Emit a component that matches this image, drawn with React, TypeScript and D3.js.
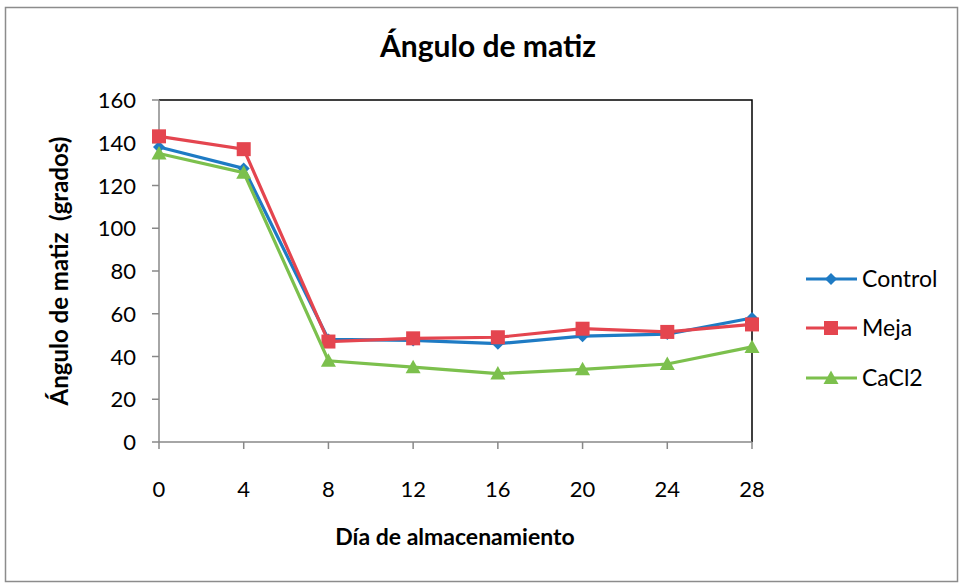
import React from "react";
import * as d3 from "d3";

const days = [0, 4, 8, 12, 16, 20, 24, 28];
const control = [138, 128, 48, 47.5, 46, 49.5, 50.5, 58];
const meja = [143, 137, 47, 48.5, 49, 53, 51.5, 55];
const cacl2 = [135, 126, 38, 35, 32, 34, 36.5, 44.5];
const yTicks = [0, 20, 40, 60, 80, 100, 120, 140, 160];
const xTicks = [0, 4, 8, 12, 16, 20, 24, 28];

const series = [
  { name: "Control", values: control, color: "#1E7BC4", marker: "diamond" },
  { name: "Meja", values: meja, color: "#E4454F", marker: "square" },
  { name: "CaCl2", values: cacl2, color: "#7CC04D", marker: "triangle" },
];

const W = 961;
const H = 583;
const L = 159, R = 752, T = 100, B = 442;
const FONT = "Lato, 'Open Sans', sans-serif";

function Marker({ type, x, y, color }: { type: string; x: number; y: number; color: string }) {
  if (type === "diamond") {
    const s = 6;
    return <path d={`M${x},${y - s}L${x + s},${y}L${x},${y + s}L${x - s},${y}Z`} fill={color} />;
  }
  if (type === "square") {
    const s = 7;
    return <rect x={x - s} y={y - s} width={2 * s} height={2 * s} fill={color} />;
  }
  const s = 7.5;
  return <path d={`M${x},${y - s}L${x + s},${y + s * 0.8}L${x - s},${y + s * 0.8}Z`} fill={color} />;
}

export default function App() {
  const x = d3.scaleLinear().domain([0, 28]).range([L, R]);
  const y = d3.scaleLinear().domain([0, 160]).range([B, T]);
  const line = d3
    .line<number>()
    .x((_, i) => x(days[i]))
    .y((d) => y(d));

  const legendY = [279, 328, 378];

  return (
    <div style={{ position: "fixed", left: 0, top: 0 }}>
      <svg width={W} height={H} style={{ display: "block", background: "#fff" }}>
        <rect x={5.5} y={7.5} width={952} height={574} fill="#fff" stroke="#8c8c8c" strokeWidth={1.5} />
        <text x={488} y={57} textAnchor="middle" fontFamily={FONT} fontWeight="bold" fontSize={30} fill="#000">
          Ángulo de matiz
        </text>
        {/* plot border top & right */}
        <path d={`M${L},${T}H${R}V${B}`} fill="none" stroke="#000" strokeWidth={1.5} />
        {/* axes */}
        <line x1={L} x2={L} y1={T} y2={B} stroke="#888" strokeWidth={1.5} />
        <line x1={L} x2={R} y1={B} y2={B} stroke="#888" strokeWidth={1.5} />
        {yTicks.map((t) => (
          <g key={"y" + t}>
            <line x1={L - 7} x2={L} y1={y(t)} y2={y(t)} stroke="#888" strokeWidth={1.5} />
            <text x={136} y={y(t) + 8} textAnchor="end" fontFamily={FONT} fontSize={22} fill="#000">
              {t}
            </text>
          </g>
        ))}
        {xTicks.map((t) => (
          <g key={"x" + t}>
            <line x1={x(t)} x2={x(t)} y1={B} y2={B + 7} stroke="#888" strokeWidth={1.5} />
            <text x={x(t)} y={497} textAnchor="middle" fontFamily={FONT} fontSize={22} fill="#000">
              {t}
            </text>
          </g>
        ))}
        <text x={455} y={545} textAnchor="middle" fontFamily={FONT} fontWeight="bold" fontSize={23} fill="#000">
          Día de almacenamiento
        </text>
        <text
          transform={`translate(68,271) rotate(-90)`}
          textAnchor="middle"
          fontFamily={FONT}
          fontWeight="bold"
          fontSize={24}
          fill="#000"
          style={{ whiteSpace: "pre" }}
        >
          {"Ángulo de matiz  (grados)"}
        </text>
        {series.map((s) => (
          <g key={s.name}>
            <path d={line(s.values) || ""} fill="none" stroke={s.color} strokeWidth={3.2} />
            {s.values.map((v, i) => (
              <Marker key={i} type={s.marker} x={x(days[i])} y={y(v)} color={s.color} />
            ))}
          </g>
        ))}
        {series.map((s, i) => (
          <g key={"lg" + s.name}>
            <line x1={806} x2={857} y1={legendY[i]} y2={legendY[i]} stroke={s.color} strokeWidth={3.2} />
            <Marker type={s.marker} x={831} y={legendY[i]} color={s.color} />
            <text x={862} y={legendY[i] + 8} fontFamily={FONT} fontSize={23} fill="#000">
              {s.name}
            </text>
          </g>
        ))}
      </svg>
    </div>
  );
}
